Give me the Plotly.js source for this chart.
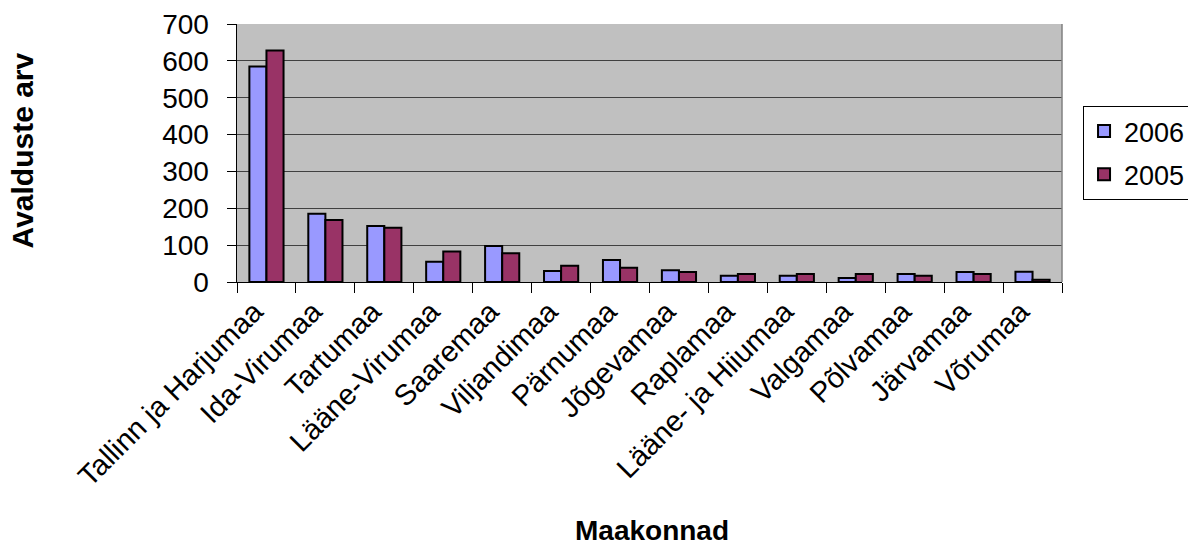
<!DOCTYPE html>
<html>
<head>
<meta charset="utf-8">
<script src="https://cdn.plot.ly/plotly-3.0.1.min.js"></script>
<style>html,body{margin:0;padding:0;background:#fff;}#chart{width:1188px;height:547px;}</style>
</head>
<body>
<div id="chart"></div>
<script>
const categories = ["Tallinn ja Harjumaa","Ida-Virumaa","Tartumaa","Lääne-Virumaa","Saaremaa","Viljandimaa","Pärnumaa","Jõgevamaa","Raplamaa","Lääne- ja Hiiumaa","Valgamaa","Põlvamaa","Järvamaa","Võrumaa"];
const values2006 = [585,185,152,55,98,30,60,32,17,17,11,22,27,28];
const values2005 = [628,168,147,83,78,44,39,27,22,22,22,17,22,6];
const yTicks = [0,100,200,300,400,500,600,700];

const font = "Liberation Sans, Arial, sans-serif";
const traces = [
  {type:"bar", name:"2006", legendgroup:"a", x:categories, y:values2006,
   marker:{color:"#9999FF", line:{color:"#000", width:2}}},
  {type:"bar", name:"2005", legendgroup:"b", x:categories, y:values2005,
   marker:{color:"#993366", line:{color:"#000", width:2}}}
];
const layout = {
  width:1188, height:547,
  margin:{l:237, r:126, t:24, b:265, pad:0, autoexpand:false},
  paper_bgcolor:"#fff", plot_bgcolor:"#C0C0C0",
  barmode:"group", bargap:0.42, bargroupgap:0,
  font:{family:font, color:"#000"},
  showlegend:true,
  legend:{x:1.0255, y:0.682, xanchor:"left", yanchor:"top",
    bordercolor:"#000", borderwidth:1, bgcolor:"#fff",
    font:{size:27, family:font}, tracegroupgap:5, traceorder:"grouped",
    itemwidth:30},
  xaxis:{type:"category", tickangle:-45, tickfont:{size:29, family:font},
    ticks:"outside", ticklen:10, tickcolor:"#000", tickson:"boundaries",
    ticklabelshift:-12, automargin:false,
    showline:true, linecolor:"#000", linewidth:1, mirror:false, showgrid:false},
  yaxis:{range:[0,700], tickvals:yTicks, ticktext:yTicks.map(String),
    tickfont:{size:28, family:font}, ticks:"outside", ticklen:9, tickcolor:"#000",
    ticklabelstandoff:12, automargin:false,
    showline:true, linecolor:"#000", linewidth:1.5, showgrid:true,
    gridcolor:"#404040", gridwidth:1.2, zeroline:false},
  shapes:[{type:"line", xref:"paper", yref:"paper", x0:1, x1:1, y0:0, y1:1,
    line:{color:"#808080", width:1.5}}],
  annotations:[
    {text:"<b>Avalduste arv</b>", xref:"paper", yref:"paper",
     x:(22-237)/825, y:0.51, xanchor:"center", yanchor:"middle",
     textangle:-90, showarrow:false, font:{size:30, family:font}},
    {text:"<b>Maakonnad</b>", xref:"paper", yref:"paper",
     x:(652-237)/825, y:(282-530)/258, xanchor:"center", yanchor:"middle",
     borderpad:0, showarrow:false, font:{size:28, family:font}}
  ]
};
Plotly.newPlot("chart", traces, layout, {displayModeBar:false, staticPlot:true});
</script>
</body>
</html>
